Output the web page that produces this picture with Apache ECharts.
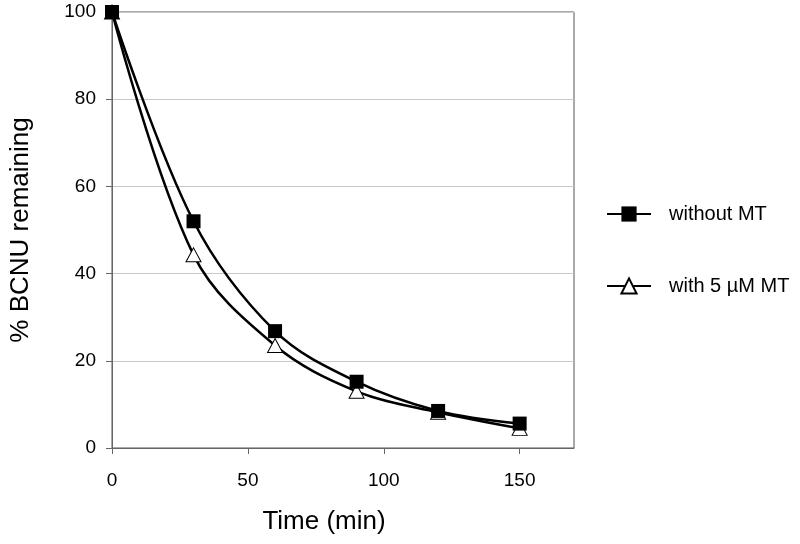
<!DOCTYPE html>
<html><head><meta charset="utf-8">
<script src="https://cdn.jsdelivr.net/npm/echarts@6/dist/echarts.min.js"></script>
<style>html,body{margin:0;padding:0;background:#fff}#c{width:800px;height:544px}</style>
</head><body><div id="c"></div>
<script>
const times = [0, 30, 60, 90, 120, 150];
const withoutMT = [100, 52, 26.8, 15.2, 8.5, 5.6];
const withMT = [100, 44.3, 23.5, 13, 8.2, 4.5];
const xTicks = [0, 50, 100, 150];
const seriesNames = ['without MT', 'with 5 \u00b5M MT'];

const pair = (ys) => times.map((t, i) => [t, ys[i]]);
const font = '"Liberation Sans", Arial, sans-serif';
const chart = echarts.init(document.getElementById('c'));
chart.setOption({
  animation: false,
  backgroundColor: '#fff',
  grid: { left: 109, right: 226, top: 12, bottom: 96, show: true, borderColor: '#555', borderWidth: 1, backgroundColor: 'transparent' },
  legend: {
    data: [seriesNames[0], seriesNames[1]],
    orient: 'vertical', left: 601, top: 199,
    itemWidth: 44, itemHeight: 19, itemGap: 52,
    textStyle: { fontFamily: font, fontSize: 20, color: '#000', padding: [0, 0, 0, 13] }
  },
  xAxis: {
    type: 'value', min: 0, max: 170, interval: 50,
    name: 'Time (min)', nameLocation: 'middle', nameGap: 61,
    nameTextStyle: { fontFamily: font, fontSize: 26, color: '#000', padding: [0, 38, 0, 0] },
    axisLine: { show: true, lineStyle: { color: '#666', width: 1 } },
    axisTick: { show: true, length: 6, customValues: xTicks, lineStyle: { color: '#666' } },
    axisLabel: { fontFamily: font, fontSize: 19, color: '#000', margin: 23, customValues: xTicks },
    splitLine: { show: false }
  },
  yAxis: {
    type: 'value', min: 0, max: 100, interval: 20,
    name: '% BCNU remaining', nameLocation: 'middle', nameGap: 78,
    nameTextStyle: { fontFamily: font, fontSize: 26, color: '#000' },
    axisLine: { show: true, lineStyle: { color: '#666', width: 1 } },
    axisTick: { show: true, length: 6, lineStyle: { color: '#666' } },
    axisLabel: { fontFamily: font, fontSize: 19, color: '#000', margin: 16 },
    splitLine: { show: true, lineStyle: { color: '#c8c8c8', width: 1 } }
  },
  series: [
    {
      name: seriesNames[1], type: 'line', data: pair(withMT), smooth: 0.35,
      symbol: 'triangle', symbolSize: [15, 14],
      lineStyle: { color: '#000', width: 2.5 },
      itemStyle: { color: '#fff', borderColor: '#000', borderWidth: 1 },
      z: 2
    },
    {
      name: seriesNames[0], type: 'line', data: pair(withoutMT), smooth: 0.35,
      symbol: 'rect', symbolSize: 14,
      lineStyle: { color: '#000', width: 2.5 },
      itemStyle: { color: '#000', borderColor: '#000', borderWidth: 0 },
      z: 3
    }
  ]
});
</script></body></html>
